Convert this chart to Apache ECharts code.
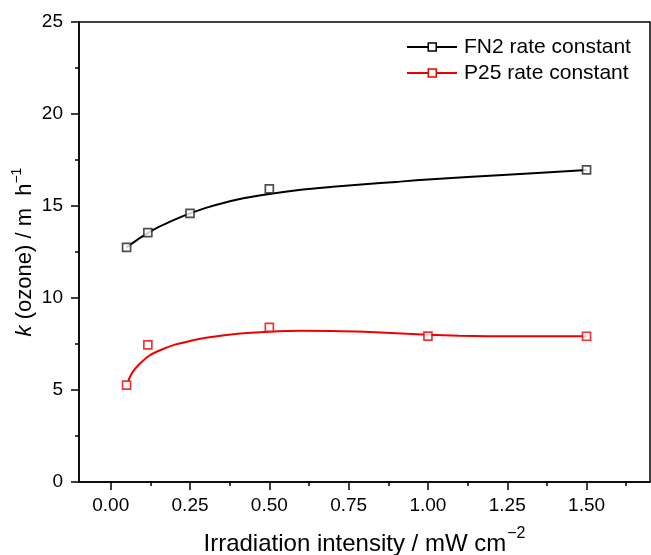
<!DOCTYPE html>
<html>
<head>
<meta charset="utf-8">
<script src="https://cdn.jsdelivr.net/npm/echarts@6/dist/echarts.min.js"></script>
<style>
html,body{margin:0;padding:0;background:#fff;}
#chart{width:651px;height:555px;}
</style>
</head>
<body>
<div id="chart"></div>
<script>
// Measured points
var fn2X = [0.05, 0.117, 0.25, 0.5, 1.5];
var fn2Y = [12.75, 13.55, 14.6, 15.93, 16.96];
var p25X = [0.05, 0.117, 0.5, 1.0, 1.5];
var p25Y = [5.27, 7.45, 8.4, 7.93, 7.92];
// Fitted curves
var fn2FitX = [0.05, 0.1, 0.15, 0.2, 0.25, 0.3, 0.4, 0.5, 0.6, 0.7, 0.8, 0.9, 1.0, 1.25, 1.5];
var fn2FitY = [12.75, 13.35, 13.85, 14.25, 14.6, 14.9, 15.35, 15.65, 15.88, 16.04, 16.18, 16.31, 16.44, 16.7, 16.96];
var p25FitX = [0.055, 0.07, 0.09, 0.12, 0.15, 0.2, 0.25, 0.3, 0.4, 0.5, 0.6, 0.7, 0.8, 0.9, 1.0, 1.1, 1.25, 1.5];
var p25FitY = [5.5, 6.0, 6.4, 6.85, 7.12, 7.45, 7.66, 7.84, 8.06, 8.17, 8.22, 8.21, 8.16, 8.08, 8.0, 7.95, 7.92, 7.92];
// Axis ticks
var xMajorTicks = [0, 0.25, 0.5, 0.75, 1.0, 1.25, 1.5];
var xMinorTicks = [0.125, 0.375, 0.625, 0.875, 1.125, 1.375, 1.625];
var seriesNames = ['FN2 rate constant', 'P25 rate constant'];

function pairs(xs, ys) { return xs.map(function (x, i) { return [x, ys[i]]; }); }

var FONT = 'Liberation Sans, Arial, sans-serif';
var BLACK = '#000000';
var RED = '#ee0000';
var legendIcon = 'path://M0 4H20.5V6H0Z M20.5 0.25H30V9.75H20.5Z M22 1.75V8.25H28.5V1.75Z M30 4H50V6H30Z';

var chart = echarts.init(document.getElementById('chart'), null, {renderer: 'canvas'});
chart.setOption({
  animation: false,
  backgroundColor: '#fff',
  grid: {left: 79, right: 1, top: 22, bottom: 73, show: true, borderColor: '#000', borderWidth: 1.5,
         containLabel: false, outerBoundsMode: 'none'},
  legend: {
    orient: 'vertical',
    left: 402, top: 31,
    itemWidth: 50, itemHeight: 10, itemGap: 4,
    textStyle: {fontFamily: FONT, fontSize: 21, color: '#000', lineHeight: 22, padding: [0, 0, 0, 2]},
    itemStyle: {borderWidth: 0},
    data: [{name: seriesNames[0], icon: legendIcon}, {name: seriesNames[1], icon: legendIcon}]
  },
  xAxis: [{
    type: 'value', min: -0.1, max: 1.7,
    splitLine: {show: false},
    axisLine: {show: true, onZero: false, lineStyle: {color: '#000', width: 1.5}},
    axisTick: {show: true, inside: false, length: 8, customValues: xMajorTicks, lineStyle: {color: '#000', width: 1.5}},
    axisLabel: {show: true, customValues: xMajorTicks, margin: 14, fontFamily: FONT, fontSize: 19, color: '#000',
      formatter: function (v) { return v.toFixed(2); }},
    name: '{a|Irradiation intensity / mW cm}{s|\u22122}',
    nameLocation: 'middle', nameGap: 44, nameMoveOverlap: false,
    nameTextStyle: {rich: {
      a: {fontFamily: FONT, fontSize: 24, color: '#000', lineHeight: 30, verticalAlign: 'bottom'},
      s: {fontFamily: FONT, fontSize: 16, color: '#000', lineHeight: 30, verticalAlign: 'top', padding: [0, 0, 0, 1]}
    }}
  }, {
    type: 'value', min: -0.1, max: 1.7, position: 'bottom',
    splitLine: {show: false},
    axisLine: {show: false, onZero: false},
    axisTick: {show: true, inside: false, length: 4, customValues: xMinorTicks, lineStyle: {color: '#000', width: 1.5}},
    axisLabel: {show: false}
  }],
  yAxis: {
    type: 'value', min: 0, max: 25, interval: 5,
    splitLine: {show: false},
    axisLine: {show: true, onZero: false, lineStyle: {color: '#000', width: 1.5}},
    axisTick: {show: true, inside: false, length: 8, lineStyle: {color: '#000', width: 1.5}},
    minorTick: {show: true, splitNumber: 2, length: 4, lineStyle: {color: '#000', width: 1.5}},
    axisLabel: {margin: 16, fontFamily: FONT, fontSize: 19, color: '#000'},
    name: '{i|k}{a| (ozone) / m  h}{s|\u22121}',
    nameLocation: 'middle', nameRotate: 90, nameGap: 43, nameMoveOverlap: false,
    nameTextStyle: {rich: {
      i: {fontFamily: FONT, fontSize: 22, fontStyle: 'italic', color: '#000', lineHeight: 26, verticalAlign: 'bottom'},
      a: {fontFamily: FONT, fontSize: 22, color: '#000', lineHeight: 26, verticalAlign: 'bottom'},
      s: {fontFamily: FONT, fontSize: 14, color: '#000', lineHeight: 26, verticalAlign: 'top'}
    }}
  },
  series: [
    {name: seriesNames[0], type: 'line', smooth: 0.3, showSymbol: false, symbol: 'none',
     data: pairs(fn2FitX, fn2FitY), color: BLACK, lineStyle: {color: BLACK, width: 2}, z: 2},
    {name: seriesNames[1], type: 'line', smooth: 0.3, showSymbol: false, symbol: 'none',
     data: pairs(p25FitX, p25FitY), color: RED, lineStyle: {color: RED, width: 2}, z: 2},
    {name: 'FN2 points', type: 'scatter', symbol: 'rect', symbolSize: 8,
     data: pairs(fn2X, fn2Y), itemStyle: {color: '#fff', borderColor: '#222', borderWidth: 1.7}, z: 5},
    {name: 'P25 points', type: 'scatter', symbol: 'rect', symbolSize: 8,
     data: pairs(p25X, p25Y), itemStyle: {color: '#fff', borderColor: RED, borderWidth: 1.7}, z: 5}
  ]
});
</script>
</body>
</html>
